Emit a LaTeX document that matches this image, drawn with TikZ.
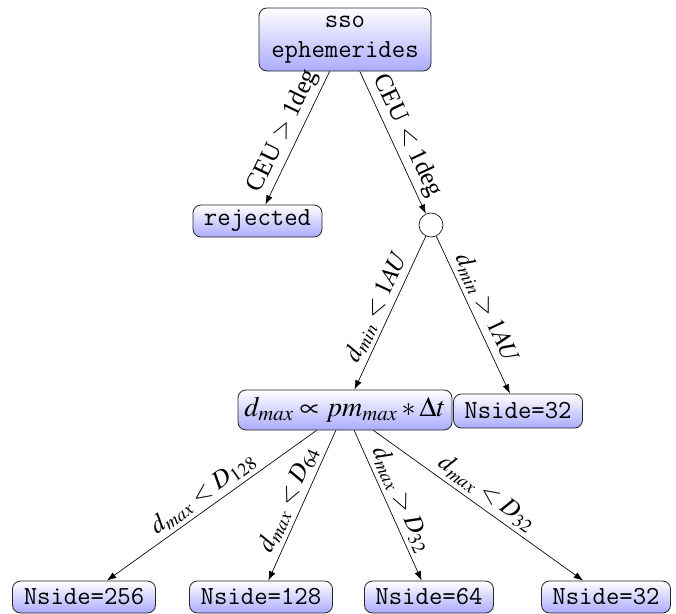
\documentclass[tikz,border=0pt]{standalone}
\usepackage{mathptmx}
\usepackage[no-math]{fontspec}
\setmainfont{Liberation Serif}
\usetikzlibrary{arrows.meta}
\begin{document}
\begin{tikzpicture}[x=0.75pt,y=-0.75pt,
  box/.style={draw=black!85, line width=0.6pt, rounded corners=6pt,
    top color=white, bottom color=blue!33, inner sep=0pt, align=center},
  tt/.style={font=\fontsize{19.5}{22.5}\selectfont\ttfamily},
  edge/.style={-{Latex[length=7pt,width=5pt]}, line width=0.5pt},
  lbl/.style={font=\fontsize{19}{22}\selectfont, sloped, above, midway, inner sep=3pt}]
\useasboundingbox (0,0) rectangle (676,614);
\node[box, tt, minimum width=172*0.75pt, minimum height=63*0.75pt] (root) at (345,39.5) {sso\\ephemerides};
\node[box, tt, minimum width=129*0.75pt, minimum height=32*0.75pt] (rej) at (257.5,221) {rejected};
\node[draw, line width=0.5pt, circle, minimum size=24*0.75pt, inner sep=0pt] (c) at (431,225) {};
\node[box, font=\fontsize{21}{24}\selectfont, minimum width=214*0.75pt, minimum height=40*0.75pt] (f) at (345,410) {$d_{max} \propto pm_{max} * \Delta t$};
\node[box, tt, minimum width=129*0.75pt, minimum height=34*0.75pt] (n32r) at (518,411) {Nside=32};
\node[box, tt, minimum width=143*0.75pt, minimum height=32*0.75pt] (n256) at (84,597) {Nside=256};
\node[box, tt, minimum width=143*0.75pt, minimum height=32*0.75pt] (n128) at (261,597) {Nside=128};
\node[box, tt, minimum width=129*0.75pt, minimum height=32*0.75pt] (n64) at (429,597) {Nside=64};
\node[box, tt, minimum width=129*0.75pt, minimum height=32*0.75pt] (n32) at (606,597) {Nside=32};
\draw[edge] (root) -- node[lbl] {CEU $>$ 1deg} (rej);
\draw[edge] (root) -- node[lbl] {CEU $<$ 1deg} (c);
\draw[edge] (c) -- node[lbl] {$d_{min} < 1AU$} (f);
\draw[edge] (c) -- node[lbl] {$d_{min} > 1AU$} (n32r);
\draw[edge] (f) -- node[lbl] {$d_{max} < D_{128}$} (n256);
\draw[edge] (f) -- node[lbl] {$d_{max} < D_{64}$} (n128);
\draw[edge] (f) -- node[lbl] {$d_{max} > D_{32}$} (n64);
\draw[edge] (f) -- node[lbl] {$d_{max} < D_{32}$} (n32);
\end{tikzpicture}
\end{document}
